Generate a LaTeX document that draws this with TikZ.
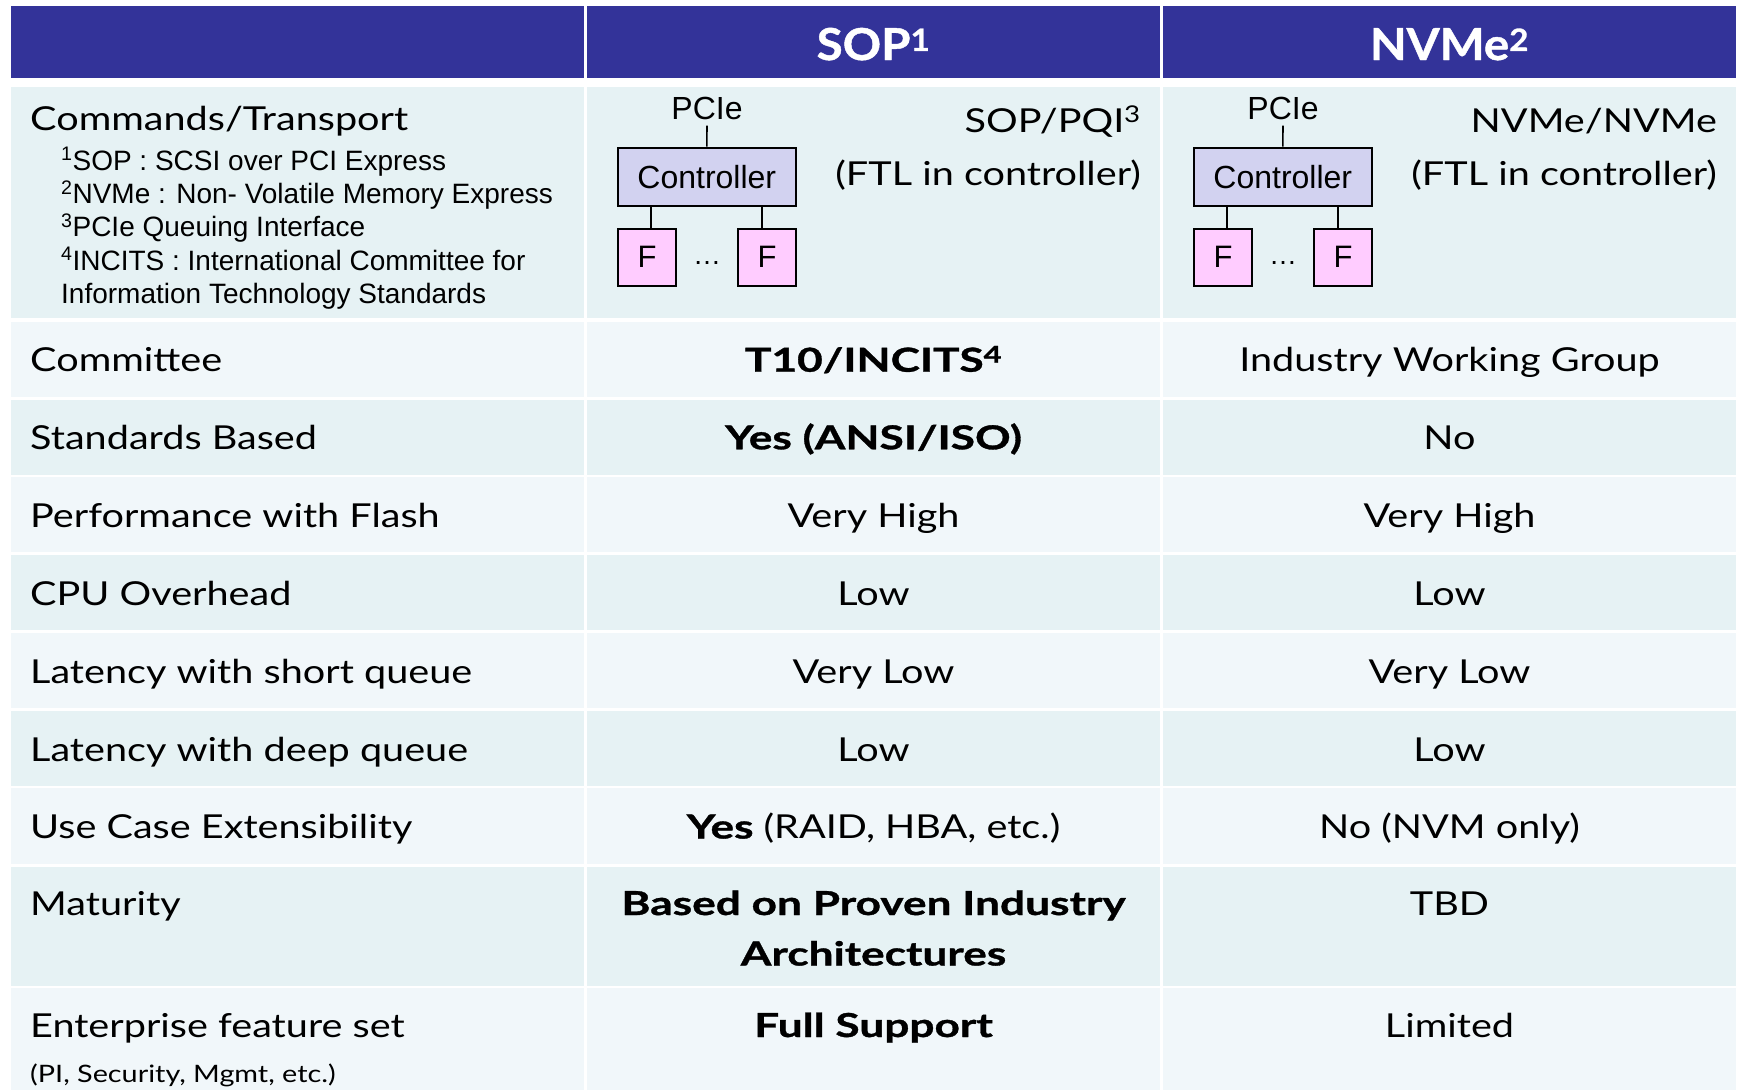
\documentclass[tikz,border=0pt]{standalone}
\usepackage{fontspec}
\setmainfont{Lato}[FakeStretch=1.2,BoldFeatures={FakeStretch=1.34,FakeBold=1}]
\newfontfamily\hdrfont{Lato}[FakeStretch=1.08,BoldFeatures={FakeStretch=1.08,FakeBold=1}]
\newfontfamily\arialf{Liberation Sans}
\definecolor{hdr}{RGB}{51,51,153}
\definecolor{rowA}{RGB}{230,242,244}
\definecolor{rowB}{RGB}{241,247,250}
\definecolor{ctrlfill}{RGB}{210,210,240}
\definecolor{flashfill}{RGB}{255,204,255}
\begin{document}
\begin{tikzpicture}[x=1pt,y=-1pt,
  lbl/.style={anchor=base west,inner sep=0pt,font=\fontsize{33}{38}\selectfont},
  lblsmall/.style={anchor=base west,inner sep=0pt,font=\fontsize{24}{28}\selectfont},
  val/.style={anchor=base,inner sep=0pt,font=\fontsize{33}{38}\selectfont},
  valb/.style={anchor=base,inner sep=0pt,font=\fontsize{33}{38}\selectfont\bfseries},
  rval/.style={anchor=base east,inner sep=0pt,font=\fontsize{33}{38}\selectfont},
  hdrtext/.style={anchor=base,inner sep=0pt,text=white,font=\hdrfont\fontsize{44}{50}\selectfont\bfseries},
  note/.style={anchor=base west,inner sep=0pt,font=\arialf\fontsize{28}{30}\selectfont},
  bustext/.style={anchor=base,inner xsep=0pt,inner ysep=6pt,font=\arialf\fontsize{32}{34}\selectfont},
  ctrlbox/.style={draw=black,line width=2pt,fill=ctrlfill,minimum width=178pt,minimum height=58pt,inner sep=0pt,font=\arialf\fontsize{32}{34}\selectfont},
  flashbox/.style={draw=black,line width=2pt,fill=flashfill,minimum width=58pt,minimum height=57pt,inner sep=0pt,font=\arialf\fontsize{31}{33}\selectfont},
  dotstext/.style={anchor=base,inner sep=0pt,font=\arialf\fontsize{28}{30}\selectfont},
  wire/.style={line width=1.6pt}
]
\useasboundingbox (0,0) rectangle (1737,1090);
\fill[white] (0,0) rectangle (1737,1090);

% header band
\foreach \xa/\xb in {11/584,587/1160,1163/1736}
  \fill[hdr] (\xa,6) rectangle (\xb,78);

% body rows: top / bottom / shade
\foreach \ya/\yb/\shade in {87/318/rowA,322/397/rowB,400/475/rowA,477/552/rowB,
    555/630/rowA,633/708/rowB,711/786/rowA,788/864/rowB,867/986/rowA,988/1090/rowB}
  \foreach \xa/\xb in {11/584,587/1160,1163/1736}
    \fill[\shade] (\xa,\ya) rectangle (\xb,\yb);

% header titles
\node[hdrtext] (hsop) at (873.5,60) {SOP\textsuperscript{1}};
\node[hdrtext] (hnvme) at (1449.5,60) {NVMe\textsuperscript{2}};

% first row: commands / transport with footnotes
\node[lbl] (cmd) at (30,130) {Commands/Transport};
\node[note] (n1) at (61,170) {\textsuperscript{1}SOP : SCSI over PCI Express};
\node[note] (n2) at (61,203.3) {\textsuperscript{2}NVMe : Non- Volatile Memory Express};
\node[note] (n3) at (61,236.7) {\textsuperscript{3}PCIe Queuing Interface};
\node[note] (n4) at (61,270) {\textsuperscript{4}INCITS : International Committee for};
\node[note] (n5) at (61,303.3) {Information Technology Standards};

% controller + flash sketches
\foreach \dx/\tg in {0/a,576/b}{
  \node[bustext] (pcie\tg) at (707+\dx,119) {PCIe};
  \node[ctrlbox] (ctrl\tg) at (706.8+\dx,176.7) {Controller};
  \node[flashbox] (fl\tg) at (647+\dx,257.2) {F};
  \node[flashbox] (fr\tg) at (767+\dx,257.2) {F};
  \node[dotstext] (dots\tg) at (707+\dx,264) {…};
  \draw[wire] (pcie\tg.south) -- (ctrl\tg.north);
  \draw[wire] ([xshift=4pt]fl\tg.north) -- ([xshift=4pt]fl\tg.north |- ctrl\tg.south);
  \draw[wire] ([xshift=-5pt]fr\tg.north) -- ([xshift=-5pt]fr\tg.north |- ctrl\tg.south);
}
\node[rval] (sopq) at (1141,132) {SOP/PQI\textsuperscript{3}};
\node[rval] (ftla) at (1141,185) {(FTL in controller)};
\node[rval] (nvq) at (1717,132) {NVMe/NVMe};
\node[rval] (ftlb) at (1717,185) {(FTL in controller)};

% remaining rows
\node[lbl] (l2) at (30,371.7) {Committee};
\node[valb] (a2) at (873.5,371.7) {T10/INCITS\textsuperscript{4}};
\node[val] (b2) at (1449.5,371.7) {Industry Working Group};

\node[lbl] (l3) at (30,449.3) {Standards Based};
\node[valb] (a3) at (873.5,449.3) {Yes (ANSI/ISO)};
\node[val] (b3) at (1449.5,449.3) {No};

\node[lbl] (l4) at (30,527.3) {Performance with Flash};
\node[val] (a4) at (873.5,527.3) {Very High};
\node[val] (b4) at (1449.5,527.3) {Very High};

\node[lbl] (l5) at (30,605) {CPU Overhead};
\node[val] (a5) at (873.5,605) {Low};
\node[val] (b5) at (1449.5,605) {Low};

\node[lbl] (l6) at (30,683) {Latency with short queue};
\node[val] (a6) at (873.5,683) {Very Low};
\node[val] (b6) at (1449.5,683) {Very Low};

\node[lbl] (l7) at (30,761) {Latency with deep queue};
\node[val] (a7) at (873.5,761) {Low};
\node[val] (b7) at (1449.5,761) {Low};

\node[lbl] (l8) at (30,838.5) {Use Case Extensibility};
\node[val] (a8) at (873.5,838.5) {\textbf{Yes} (RAID, HBA, etc.)};
\node[val] (b8) at (1449.5,838.5) {No (NVM only)};

\node[lbl] (l9) at (30,915) {Maturity};
\node[valb] (a9) at (873.5,915) {Based on Proven Industry};
\node[valb] (a9b) at (873.5,965.5) {Architectures};
\node[val] (b9) at (1449.5,915) {TBD};

\node[lbl] (l10) at (30,1037) {Enterprise feature set};
\node[lblsmall] (l10b) at (30,1082) {(PI, Security, Mgmt, etc.)};
\node[valb] (a10) at (873.5,1037) {Full Support};
\node[val] (b10) at (1449.5,1037) {Limited};
\end{tikzpicture}
\end{document}
